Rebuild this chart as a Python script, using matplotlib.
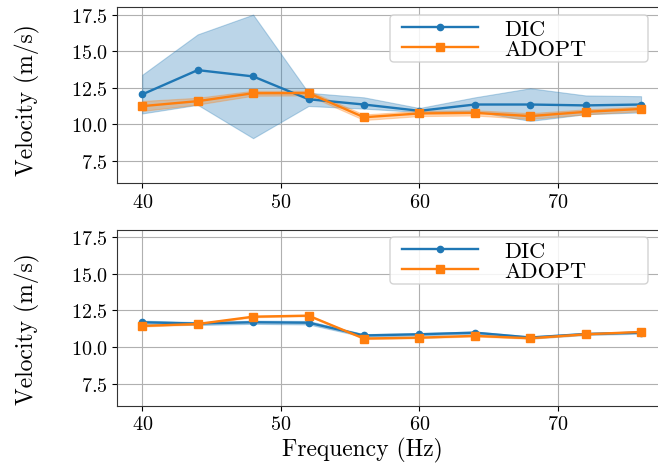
import matplotlib
matplotlib.use("Agg")
import matplotlib.pyplot as plt
from matplotlib.patches import FancyBboxPatch
from matplotlib.transforms import IdentityTransform
import numpy as np

plt.rcParams['font.family'] = ['cmr10', 'DejaVu Serif']
plt.rcParams['mathtext.fontset'] = 'cm'
plt.rcParams['axes.formatter.use_mathtext'] = True

freq = [40, 44, 48, 52, 56, 60, 64, 68, 72, 76]

# top panel
dic_top = [12.05, 13.71, 13.28, 11.72, 11.36, 10.93, 11.36, 11.36, 11.30, 11.36]
dic_top_hi = [13.39, 16.15, 17.50, 12.16, 11.85, 11.12, 11.85, 12.47, 11.98, 11.93]
dic_top_lo = [10.75, 11.34, 9.06, 11.26, 11.08, 10.85, 10.90, 10.24, 10.70, 10.82]
adopt_top = [11.25, 11.59, 12.13, 12.14, 10.49, 10.75, 10.79, 10.57, 10.86, 11.06]
adopt_top_hi = [11.60, 11.82, 12.30, 12.30, 10.68, 10.93, 10.97, 10.77, 11.03, 11.22]
adopt_top_lo = [10.92, 11.36, 11.96, 11.98, 10.30, 10.57, 10.61, 10.37, 10.69, 10.90]

# bottom panel
dic_bot = [11.69, 11.60, 11.69, 11.66, 10.79, 10.87, 10.98, 10.65, 10.89, 10.98]
dic_bot_hi = [11.80, 11.70, 11.80, 11.78, 10.88, 10.95, 11.06, 10.72, 10.96, 11.05]
dic_bot_lo = [11.58, 11.50, 11.58, 11.54, 10.70, 10.79, 10.90, 10.58, 10.82, 10.91]
adopt_bot = [11.44, 11.57, 12.07, 12.14, 10.58, 10.64, 10.76, 10.60, 10.87, 11.03]
adopt_bot_hi = [11.48, 11.61, 12.11, 12.18, 10.62, 10.68, 10.80, 10.64, 10.91, 11.07]
adopt_bot_lo = [11.40, 11.53, 12.03, 12.10, 10.54, 10.60, 10.72, 10.56, 10.83, 10.99]

yticks = [7.5, 10.0, 12.5, 15.0, 17.5]
xticks = [40, 50, 60, 70]

W, H = 658, 464
fig = plt.figure(figsize=(W / 100, H / 100), dpi=100)

def box(l, t, r, b):
    return [l / W, 1 - b / H, (r - l) / W, (b - t) / H]

ax1 = fig.add_axes(box(117.3, 8.3, 666, 184))
ax2 = fig.add_axes(box(117.3, 230.7, 666, 406.7))

c1, c2 = '#1f77b4', '#ff7f0e'
panels = [
    (ax1, dic_top, dic_top_lo, dic_top_hi, adopt_top, adopt_top_lo, adopt_top_hi, 16),
    (ax2, dic_bot, dic_bot_lo, dic_bot_hi, adopt_bot, adopt_bot_lo, adopt_bot_hi, 238),
]
for ax, d, dl, dh, a, al, ah, ltop in panels:
    ax.fill_between(freq, dl, dh, color=c1, alpha=0.3, linewidth=0.8)
    ax.plot(freq, d, color=c1, marker='o', markersize=4.5, linewidth=1.7, label='DIC')
    ax.fill_between(freq, al, ah, color=c2, alpha=0.3, linewidth=0.8)
    ax.plot(freq, a, color=c2, marker='s', markersize=5.5, linewidth=1.7, label='ADOPT')
    ax.set_ylim(6, 18)
    ax.set_yticks(yticks)
    ax.set_xticks(xticks)
    ax.grid(True, color='#b0b0b0', linewidth=0.8)
    ax.set_axisbelow(True)
    ax.tick_params(labelsize=14.5)
    ax.set_ylabel('Velocity (m/s)', fontsize=17)
    for s in ax.spines.values():
        s.set_color('#333333')
    # legend frame (pixel coords, origin bottom-left)
    lh = 47
    frame = FancyBboxPatch((390, H - (ltop + lh)), 258, lh,
                           boxstyle='round,pad=0,rounding_size=4',
                           transform=IdentityTransform(), facecolor='white',
                           edgecolor='#cccccc', linewidth=1.0, alpha=0.85,
                           zorder=4.9, clip_on=False)
    ax.add_artist(frame)
    ax.legend(loc='upper left',
              bbox_to_anchor=(398 / W, 1 - ltop / H),
              bbox_transform=fig.transFigure, fontsize=16, handlelength=3.4,
              handletextpad=1.2, labelspacing=0.0, borderpad=0.2, numpoints=1,
              frameon=False, borderaxespad=0)

ax2.set_xlabel('Frequency (Hz)', fontsize=17)
ax2.xaxis.set_label_coords(0.446, -0.175)
ax1.yaxis.set_label_coords(-0.14, 0.48)
ax2.yaxis.set_label_coords(-0.14, 0.44)

fig.savefig('out.png', dpi=100)
